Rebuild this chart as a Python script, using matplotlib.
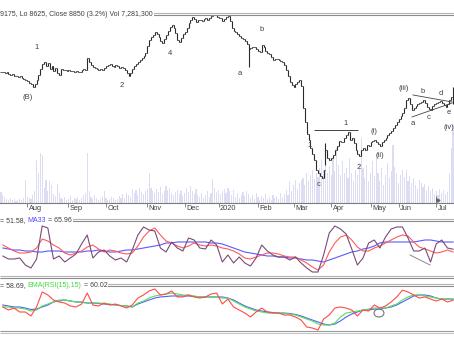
import numpy as np
import matplotlib.pyplot as plt
from matplotlib.patches import Ellipse
from matplotlib.transforms import ScaledTranslation

plt.rcParams['font.family'] = ['Liberation Sans', 'DejaVu Sans']

W, H = 454, 341

# month axis: label and index of the first bar of that month
months = ['Aug', 'Sep', 'Oct', 'Nov', 'Dec', '2020', 'Feb', 'Mar', 'Apr', 'May', 'Jun', 'Jul']
month_start = [14, 36, 56, 78, 98, 116, 137, 156, 176, 197, 212, 232]

# daily closes (yen)
close = [
    9650, 9650, 9620, 9650, 9585, 9555, 9585, 9520, 9520, 9490,
    9520, 9455, 9425, 9390, 9360, 9295, 9260, 9160, 9260, 9390,
    9555, 9750, 9910, 9975, 9845, 9945, 9750, 9845, 9685, 9780,
    9620, 9555, 9750, 9715, 9715, 9685, 9715, 9685, 9685, 9650,
    9685, 9650, 9650, 9715, 9750, 9715, 10105, 9975, 9880, 9815,
    9780, 9750, 9715, 9750, 9715, 9780, 9845, 9880, 9910, 9845,
    9815, 9880, 9845, 9780, 9815, 9780, 9715, 9620, 9520, 9620,
    9750, 9845, 9910, 9975, 10040, 10105, 10170, 10270, 10495, 10690,
    10790, 10850, 10950, 10885, 10790, 10660, 10590, 10720, 10850, 10980,
    11110, 11180, 11080, 10920, 10690, 10625, 10755, 10885, 10950, 11080,
    11240, 11340, 11440, 11375, 11275, 11340, 11340, 11310, 11375, 11405,
    11340, 11405, 11470, 11500, 11500, 11440, 11405, 11405, 11310, 11375,
    11440, 11470, 11310, 11080, 10980, 10950, 10885, 10820, 10755, 10720,
    10660, 10560, 10400, 10430, 10460, 10460, 10400, 10330, 10300, 10530,
    10460, 10330, 10270, 10235, 10140, 10040, 10070, 10070, 10040, 10010,
    9975, 9880, 9715, 9520, 9325, 9225, 9160, 9260, 9325, 9390,
    9195, 8480, 8025, 7635, 7440, 7180, 6985, 6790, 6465, 6370,
    6270, 6205, 6465, 7115, 6855, 6790, 6855, 6950, 7115, 7245,
    7410, 7375, 7375, 7505, 7600, 7700, 7440, 7505, 7340, 7115,
    6985, 6920, 7115, 7180, 7115, 7275, 7245, 7375, 7410, 7440,
    7375, 7310, 7245, 7375, 7440, 7505, 7600, 7670, 7730, 7830,
    7925, 8025, 8125, 8220, 8320, 8480, 8740, 8805, 8610, 8415,
    8480, 8545, 8610, 8645, 8675, 8740, 8645, 8510, 8450, 8415,
    8545, 8610, 8645, 8675, 8710, 8645, 8580, 8510, 8610, 8740, 8840, 8850,
]
# bars whose high / low reach past the close-to-close span
wick_hi = {173: 7340, 241: 9175}
wick_lo = {132: 9815, 173: 6625, 241: 8625}

# daily volume, thousands of shares
volume = [
    1030, 750, 560, 370, 280, 470, 280, 370, 190, 280,
    370, 280, 470, 2150, 560, 470, 370, 750, 1120, 4020,
    2800, 4670, 4490, 1400, 2150, 1120, 2060, 1680, 840, 650,
    1780, 930, 470, 370, 560, 280, 370, 650, 280, 470,
    370, 560, 280, 470, 750, 930, 4670, 1120, 560, 370,
    750, 470, 280, 370, 560, 1120, 470, 280, 370, 560,
    470, 280, 370, 650, 470, 840, 470, 930, 750, 560,
    1310, 930, 1210, 750, 1400, 1030, 840, 1120, 1310, 2800,
    1400, 1120, 930, 1310, 1030, 1500, 840, 1120, 1590, 1210,
    1400, 930, 750, 1030, 1210, 840, 1120, 650, 930, 1400,
    1030, 1590, 1120, 840, 1310, 750, 560, 930, 470, 750,
    1120, 560, 930, 2240, 1400, 1030, 1210, 840, 1120, 1310,
    930, 1400, 1120, 750, 1210, 560, 930, 470, 750, 1030,
    650, 1120, 840, 470, 750, 370, 930, 560, 280, 650,
    470, 840, 370, 560, 280, 750, 470, 650, 370, 930,
    560, 840, 1210, 750, 2060, 1120, 1680, 2150, 1310, 1870,
    2150, 2340, 1680, 2800, 2060, 2620, 3080, 2240, 2800, 2430,
    3270, 4020, 3080, 3740, 2800, 3460, 2620, 4210, 2990, 5140,
    3550, 2620, 3930, 2800, 3270, 2340, 4210, 2800, 2060, 3080,
    2620, 3740, 6070, 3270, 2340, 3550, 2060, 2800, 3930, 2520,
    4670, 2800, 2060, 3270, 1680, 2620, 3740, 2340, 2990, 5420,
    3360, 2800, 1870, 2620, 3080, 2430, 3080, 2060, 2520, 1870,
    2340, 1680, 1310, 2150, 1870, 1500, 1780, 1210, 1590, 1120,
    1400, 840, 1120, 750, 1310, 930, 1210, 840, 1030, 2800, 5140, 7281,
]

# indicator readings every third bar (bars 1, 4, ..., 241)
osc = [
    38, 32, 32, 34, 20, 14, 32, 98, 94, 32,
    38, 26, 34, 42, 62, 80, 34, 46, 50, 38,
    30, 34, 26, 50, 80, 96, 90, 88, 54, 46,
    66, 54, 48, 74, 70, 54, 52, 70, 60, 26,
    40, 24, 36, 24, 18, 34, 60, 48, 40, 36,
    36, 30, 36, 24, 14, 6, 6, 40, 84, 98,
    92, 82, 52, 20, 34, 64, 70, 54, 76, 92,
    96, 96, 74, 48, 48, 54, 26, 62, 70, 54, 51.58,
]
osc_ma = [
    60, 54, 48, 44, 44, 46, 54, 72, 68, 60,
    54, 44, 40, 44, 48, 56, 60, 52, 46, 50,
    48, 44, 42, 44, 58, 76, 88, 94, 80, 68,
    64, 58, 54, 58, 64, 60, 58, 60, 58, 54,
    52, 48, 42, 34, 32, 36, 40, 44, 44, 42,
    38, 36, 36, 30, 24, 16, 10, 20, 46, 64,
    76, 80, 70, 56, 48, 48, 54, 58, 64, 70,
    76, 80, 78, 66, 56, 52, 48, 44, 46, 50, 46,
]
osc_ma33 = [
    54, 52, 50, 50, 48, 48, 46, 46, 48, 48,
    48, 46, 46, 46, 46, 48, 48, 50, 48, 46,
    46, 48, 50, 50, 52, 54, 56, 58, 60, 64,
    64, 66, 66, 66, 66, 66, 66, 64, 64, 62,
    58, 54, 50, 46, 44, 42, 40, 38, 38, 36,
    36, 34, 34, 32, 30, 30, 28, 26, 30, 34,
    38, 42, 46, 48, 52, 54, 58, 64, 66, 66,
    66, 66, 66, 66, 68, 70, 70, 68, 66, 66, 65.96,
]
rsi = [
    49.8, 45.8, 48.4, 43.2, 43.2, 37.9, 49.8, 69.6, 65.6, 59.0,
    56.4, 55.0, 51.1, 49.8, 53.7, 68.2, 52.4, 51.1, 55.0, 52.4,
    53.7, 51.1, 48.4, 52.4, 61.6, 65.6, 70.9, 73.5, 65.6, 66.9,
    70.9, 63.0, 63.0, 65.6, 63.0, 61.6, 63.0, 66.9, 68.2, 53.7,
    60.3, 49.8, 45.8, 41.8, 36.6, 43.2, 48.4, 43.2, 41.8, 41.8,
    39.2, 39.2, 36.6, 32.6, 23.4, 22.0, 19.4, 33.9, 39.2, 48.4,
    49.8, 48.4, 45.8, 37.9, 45.8, 44.5, 52.4, 48.4, 51.1, 56.4,
    63.0, 72.0, 69.6, 65.6, 61.6, 63.0, 60.3, 57.7, 60.3, 56.4, 58.69,
]
rsi_ema = [
    49.8, 49.8, 48.4, 48.4, 47.1, 44.5, 45.8, 51.1, 53.7, 56.4,
    59.0, 59.0, 57.7, 56.4, 55.7, 55.0, 55.0, 55.0, 54.4, 53.7,
    52.4, 51.7, 51.1, 49.8, 55.0, 57.7, 61.6, 64.3, 65.6, 66.9,
    68.2, 66.9, 65.6, 65.6, 64.3, 63.0, 63.0, 63.0, 63.0, 61.6,
    61.6, 57.7, 53.7, 49.8, 47.1, 44.5, 43.2, 41.8, 41.8, 41.8,
    41.2, 40.5, 39.2, 36.6, 33.9, 31.3, 27.3, 26.0, 26.0, 28.6,
    36.6, 41.8, 43.2, 44.5, 45.8, 47.1, 48.4, 48.4, 48.4, 51.1,
    53.7, 59.0, 63.0, 65.6, 65.6, 64.3, 63.0, 61.6, 60.3, 60.3, 60.02,
]
rsi_ema_slow = [
    52.4, 51.1, 49.8, 49.8, 48.4, 46.5, 47.1, 49.8, 52.4, 56.4,
    57.7, 59.0, 57.7, 56.4, 56.4, 55.0, 55.0, 54.4, 53.7, 53.1,
    52.4, 51.7, 51.1, 49.8, 53.7, 56.4, 59.0, 61.6, 63.0, 63.6,
    64.3, 64.3, 64.3, 64.3, 63.6, 63.0, 63.0, 63.0, 63.0, 63.0,
    61.6, 59.0, 55.0, 51.1, 48.4, 45.8, 44.5, 43.2, 42.5, 41.8,
    41.8, 41.2, 39.9, 37.9, 35.2, 32.6, 30.0, 27.3, 26.0, 27.3,
    31.3, 36.6, 40.5, 43.2, 45.8, 45.8, 47.1, 47.1, 48.4, 49.8,
    52.4, 56.4, 60.3, 64.3, 65.6, 65.6, 64.3, 61.6, 60.3, 60.3, 60.3,
]

# Elliott wave counts: (label, bar, price)
waves = [
    ('(B)', 14.4, 8805), ('1', 19.2, 10430), ('2', 64.5, 9195), ('4', 90.1, 10235),
    ('a', 127.4, 9585), ('b', 139.2, 11045), ('1', 164.7, 7275), ('c', 169.5, 5980),
    ('1', 183.9, 7960), ('2', 190.9, 6560), ('(i)', 198.9, 7700), ('(ii)', 202.1, 6920),
    ('(iii)', 214.9, 9100), ('a', 219.6, 7990), ('b', 225.0, 9030), ('c', 228.2, 8155),
    ('d', 234.6, 8935), ('e', 238.8, 8320), ('(iv)', 238.9, 7860),
]

n = len(close)
bars = np.arange(n)
osc_x = np.arange(1, n, 3)
TXT = '#404040'

fig = plt.figure(figsize=(W / 100, H / 100), dpi=100)


def rect(top, bottom):
    return [0, 1 - bottom / H, 1, (bottom - top) / H]


def bare(ax):
    ax.set_facecolor('none')
    for s in ax.spines.values():
        s.set_visible(False)
    ax.set_xticks([])
    ax.set_yticks([])
    ax.set_xlim(-0.5, n - 0.5)


# ---- price panel with volume behind ----
ax_vol = fig.add_axes(rect(15, 203))
bare(ax_vol)
ax_vol.bar(bars, volume, width=0.6, color='#dcdcf3', linewidth=0)
ax_vol.set_ylim(0, 17600)

ax = fig.add_axes(rect(15, 203))
bare(ax)
ax.set_ylim(5392, 11502)
c = np.array(close, dtype=float)
o = np.r_[c[0], c[:-1]]
hi = np.maximum(o, c)
lo = np.minimum(o, c)
for k, v in wick_hi.items():
    hi[k] = v
for k, v in wick_lo.items():
    lo[k] = v
ax.vlines(bars, lo, hi, color='#2b2b2b', lw=0.8)
ax.hlines(c, bars, bars + 0.5, color='#2b2b2b', lw=0.75)
ax.hlines(o, bars - 0.5, bars, color='#2b2b2b', lw=0.6)

for label, xb, pr in waves:
    ax.text(xb, pr, label, fontsize=5.5, color=TXT, ha='center', va='center')
ax.hlines(7765, 166.9, 190.3, color='#444444', lw=0.7)
ax.plot([219.6, 240.5], [8903, 8675], color='#444444', lw=0.6)
ax.plot([219.1, 240.5], [8188, 8643], color='#444444', lw=0.6)
# dividend marker
ax.vlines(231.9, 5393, 5620, color='#666666', lw=0.6)
ax.plot(232.9, 5500, marker='>', ms=2.2, color='#666666')

ax.spines['bottom'].set_visible(True)
ax.spines['bottom'].set_color('#7a7a7a')
ax.spines['bottom'].set_linewidth(0.8)
ax.set_xticks(month_start)
ax.set_xticklabels(months, fontsize=5.3, color=TXT, ha='left')
ax.tick_params(axis='x', length=3, width=0.6, color='#7a7a7a', pad=-1.5)
shift = ScaledTranslation(1.5 / 100, 0, fig.dpi_scale_trans)
for t in ax.get_xticklabels():
    t.set_transform(t.get_transform() + shift)

# ---- oscillator panel ----
ax1 = fig.add_axes(rect(222, 275))
bare(ax1)
ax1.set_ylim(0, 106)
ax1.plot(osc_x, osc_ma33, color='#5a5aff', lw=0.8)
ax1.plot(osc_x, osc_ma, color='#ff5a5a', lw=0.8)
ax1.plot(osc_x, osc, color='#7a4a78', lw=0.8)
ax1.plot([218.1, 228.7], [40, 20], color='#8a8a8a', lw=0.7)

# ---- RSI panel ----
ax2 = fig.add_axes(rect(285, 331))
bare(ax2)
ax2.set_ylim(18.1, 78.8)
ax2.plot(osc_x, rsi_ema_slow, color='#5a5aff', lw=0.8)
ax2.plot(osc_x, rsi_ema, color='#55e055', lw=0.8)
ax2.plot(osc_x, rsi, color='#ff4a4a', lw=0.8)
ax2.add_patch(Ellipse((201.5, 41.8), 5.3, 10.5, fill=False, ec='#777777', lw=0.8))

# ---- frame rules and header readouts ----
ov = fig.add_axes([0, 0, 1, 1], zorder=5)
ov.set_facecolor('none')
ov.axis('off')
ov.set_xlim(0, W)
ov.set_ylim(H, 0)
for y, col in [(12.7, '#b4b4b4'), (15.3, '#8c8c8c'),
               (218.5, '#b4b4b4'), (221.3, '#8c8c8c'),
               (275.5, '#b4b4b4'), (277.8, '#8c8c8c'),
               (283.5, '#b4b4b4'), (286.2, '#8c8c8c'),
               (331.0, '#9a9a9a'), (333.2, '#c4c4c4')]:
    ov.hlines(y, 0, W, color=col, lw=0.8)


def header(y, parts):
    box = dict(boxstyle='square,pad=0.15', fc='white', ec='none')
    prev = None
    for text, col in parts:
        if prev is None:
            prev = ov.text(0, y, text, fontsize=5, color=col, ha='left', va='center', bbox=box)
        else:
            prev = ov.annotate(text, xy=(1, 0), xycoords=prev, fontsize=5, color=col,
                               ha='left', va='bottom', bbox=box)


header(14.2, [('9175, Lo 8625, Close 8850 (3.2%) Vol 7,281,300', TXT)])
header(220.5, [('= 51.58, ', TXT), ('MA33', '#4a4aff'), (' = 65.96', TXT)])
header(285.5, [('= 58.69, ', TXT), ('EMA(RSI(15),15)', '#3ed83e'), (' = 60.02', TXT)])

fig.savefig('out.png', dpi=100)
